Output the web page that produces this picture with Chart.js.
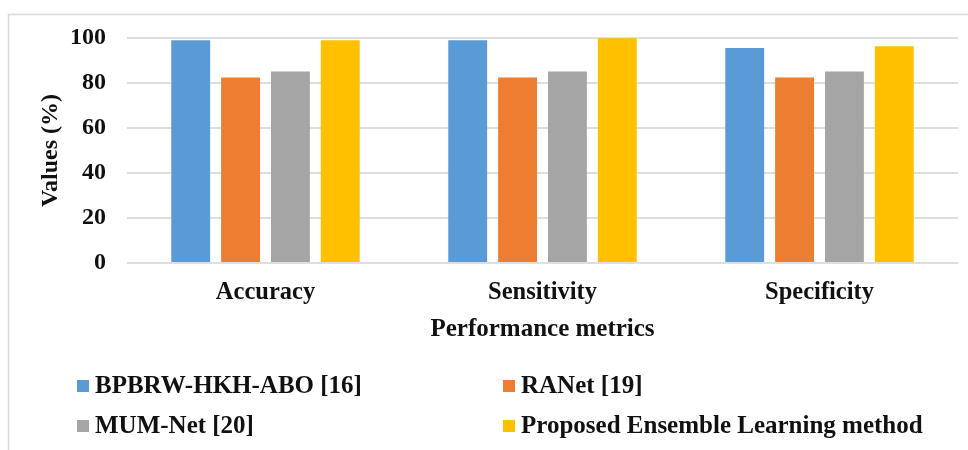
<!DOCTYPE html>
<html>
<head>
<meta charset="utf-8">
<script src="https://cdn.jsdelivr.net/npm/chart.js@4/dist/chart.umd.min.js"></script>
<style>
  html, body { margin: 0; padding: 0; background: #ffffff; }
  #wrap { position: relative; width: 968px; height: 450px; }
</style>
</head>
<body>
<div id="wrap"><canvas id="chart" width="968" height="450"></canvas></div>
<script>
// Performance metrics compared across the four methods (values in %)
const categories = ['Accuracy', 'Sensitivity', 'Specificity'];
const seriesNames = ['BPBRW-HKH-ABO [16]', 'RANet [19]', 'MUM-Net [20]', 'Proposed Ensemble Learning method'];
const bpbrwValues = [99.0, 99.0, 95.6];
const ranetValues = [82.4, 82.4, 82.4];
const mumnetValues = [85.1, 85.1, 85.1];
const proposedValues = [99.0, 99.9, 96.3];
const yTicks = [0, 20, 40, 60, 80, 100];

const seriesColors = ['#5b9bd5', '#ed7d31', '#a5a5a5', '#ffc000'];
const seriesValues = [bpbrwValues, ranetValues, mumnetValues, proposedValues];

const FONT = '"Liberation Serif", "Times New Roman", serif';
const TEXT = '#111111';
const GRID = '#dedede';

// light outer frame (left and top edges)
const framePlugin = {
  id: 'frame',
  beforeDraw(chart) {
    const ctx = chart.ctx;
    ctx.save();
    ctx.strokeStyle = '#d9d9d9';
    ctx.lineWidth = 1.5;
    ctx.beginPath();
    ctx.moveTo(8.5, 450);
    ctx.lineTo(8.5, 14.5);
    ctx.lineTo(968, 14.5);
    ctx.stroke();
    ctx.restore();
  }
};

// two-column legend under the axis title
const gridLegend = {
  id: 'gridLegend',
  afterDraw(chart) {
    const ctx = chart.ctx;
    const cols = [77, 503];
    const rows = [386, 426];
    ctx.save();
    ctx.font = 'bold 25px ' + FONT;
    ctx.textBaseline = 'middle';
    ctx.textAlign = 'left';
    chart.data.datasets.forEach((ds, i) => {
      const x = cols[i % 2];
      const y = rows[Math.floor(i / 2)];
      ctx.fillStyle = ds.backgroundColor;
      ctx.fillRect(x, y - 6, 12, 12);
      ctx.fillStyle = TEXT;
      ctx.fillText(ds.label, x + 18, y + 1);
    });
    ctx.restore();
  }
};

new Chart(document.getElementById('chart'), {
  type: 'bar',
  data: {
    labels: categories,
    datasets: seriesNames.map((name, i) => ({
      label: name,
      data: seriesValues[i],
      backgroundColor: seriesColors[i],
      borderWidth: 0,
      categoryPercentage: 0.72,
      barPercentage: 0.78
    }))
  },
  options: {
    responsive: false,
    animation: false,
    layout: { padding: { left: 0, right: 10, top: 38, bottom: 104 } },
    plugins: {
      legend: { display: false },
      tooltip: { enabled: false }
    },
    scales: {
      x: {
        grid: { display: false, drawTicks: false },
        border: { display: false },
        ticks: { color: TEXT, font: { family: FONT, size: 24.5, weight: 'bold' }, padding: 15 },
        title: {
          display: true,
          text: 'Performance metrics',
          color: TEXT,
          font: { family: FONT, size: 25, weight: 'bold' },
          padding: { top: 0, bottom: 1 }
        },
        afterFit(scale) { scale.height = 83; }
      },
      y: {
        min: 0,
        max: 100,
        afterBuildTicks(scale) { scale.ticks = yTicks.map(v => ({ value: v })); },
        grid: { color: GRID, lineWidth: 2, drawTicks: false },
        border: { display: false },
        ticks: { color: TEXT, font: { family: FONT, size: 24, weight: 'bold' }, padding: 21 },
        title: {
          display: true,
          text: 'Values (%)',
          color: TEXT,
          font: { family: FONT, size: 24, weight: 'bold' },
          padding: { top: 36, bottom: 0 }
        },
        afterFit(scale) { scale.width = 127; }
      }
    }
  },
  plugins: [framePlugin, gridLegend]
});
</script>
</body>
</html>
